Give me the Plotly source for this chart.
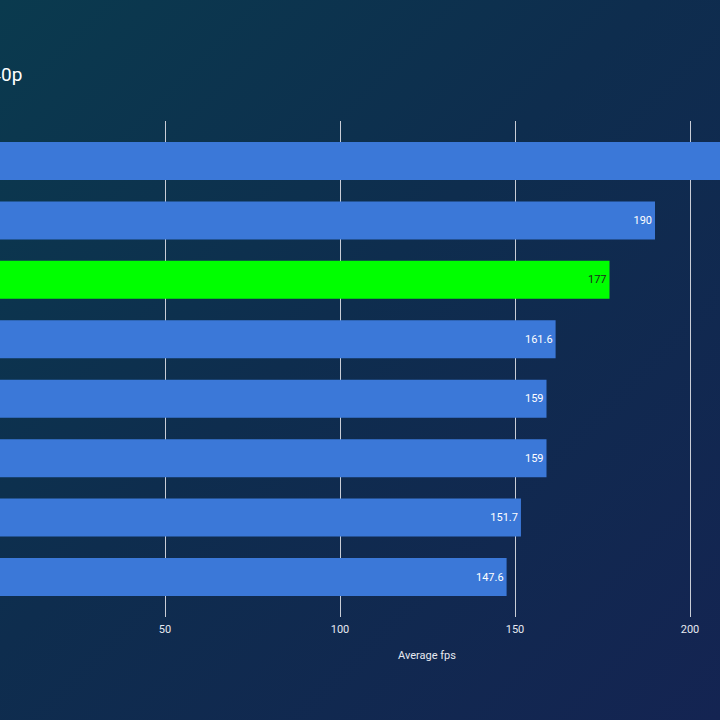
import base64
import plotly.graph_objects as go

# ---- data ----
categories = ["GPU 1", "GPU 2", "GPU 3", "GPU 4", "GPU 5", "GPU 6", "GPU 7", "GPU 8"]
avg_fps = [220, 190, 177, 161.6, 159, 159, 151.7, 147.6]
highlight_index = 2
tick_values = [0, 50, 100, 150, 200]
title_text = "1440p"
x_title = "Average fps"

W, H = 720, 720
plot_top, plot_bottom = 121, 617
m_t, m_b = plot_top, H - plot_bottom
plot_h = plot_bottom - plot_top

# x scale: 3.5 px per unit, value 0 at pixel -10
px_per_unit = 3.5
x0_px = -10
x_range = [(0 - x0_px) / px_per_unit, (W - x0_px) / px_per_unit]

bar_colors = ["#00ff00" if i == highlight_index else "#3b78d8" for i in range(len(categories))]
text_colors = ["#1e2a1e" if i == highlight_index else "#ffffff" for i in range(len(categories))]
labels = [f"{v:g}" for v in avg_fps]

svg = f'''<svg xmlns="http://www.w3.org/2000/svg" width="{W}" height="{H}" viewBox="0 0 {W} {H}">
<defs><linearGradient id="g" x1="0" y1="0" x2="1" y2="1">
<stop offset="0" stop-color="#0a3a4e"/>
<stop offset="0.45" stop-color="#0e2d4e"/>
<stop offset="1" stop-color="#142452"/>
</linearGradient></defs>
<rect width="{W}" height="{H}" fill="url(#g)"/></svg>'''
bg_src = "data:image/svg+xml;base64," + base64.b64encode(svg.encode()).decode()

fig = go.Figure(go.Bar(
    y=categories,
    x=avg_fps,
    orientation="h",
    marker=dict(color=bar_colors, line=dict(width=0)),
    text=labels,
    textposition="inside",
    insidetextanchor="end",
    textfont=dict(family="Roboto", size=11, color=text_colors),
    cliponaxis=True,
    hoverinfo="skip",
))

fig.update_layout(
    width=W, height=H,
    margin=dict(l=0, r=0, t=m_t, b=m_b, pad=0),
    paper_bgcolor="#0f2d4f",
    plot_bgcolor="rgba(0,0,0,0)",
    bargap=0.36,
    showlegend=False,
    font=dict(family="Roboto", color="#e6e9f0"),
    images=[dict(
        source=bg_src, xref="paper", yref="paper",
        x=0, y=1 + m_t / plot_h, sizex=1, sizey=H / plot_h,
        xanchor="left", yanchor="top", sizing="stretch", layer="below",
    )],
    xaxis=dict(
        range=x_range,
        tickvals=tick_values,
        showgrid=True, gridcolor="#c9cdd6", gridwidth=1,
        zeroline=False, showline=False,
        ticks="", ticklabelstandoff=4,
        tickfont=dict(family="Roboto", size=11, color="#e6e9f0"),
        fixedrange=True,
    ),
    yaxis=dict(
        categoryorder="array", categoryarray=categories,
        range=[len(categories) - 1 + 0.673, -0.673],
        showticklabels=False, showgrid=False, zeroline=False, ticks="",
    ),
    annotations=[
        dict(
            text=title_text, xref="paper", yref="paper",
            x=24 / W, xanchor="right",
            y=1 + (m_t - 74) / plot_h, yanchor="middle",
            showarrow=False,
            font=dict(family="Roboto", size=19, color="#ffffff"),
        ),
        dict(
            text=x_title, xref="paper", yref="paper",
            x=427 / W, xanchor="center",
            y=-(655 - plot_bottom) / plot_h, yanchor="middle",
            showarrow=False,
            font=dict(family="Roboto", size=11, color="#e6e9f0"),
        ),
    ],
)

fig.write_html("out.html")
